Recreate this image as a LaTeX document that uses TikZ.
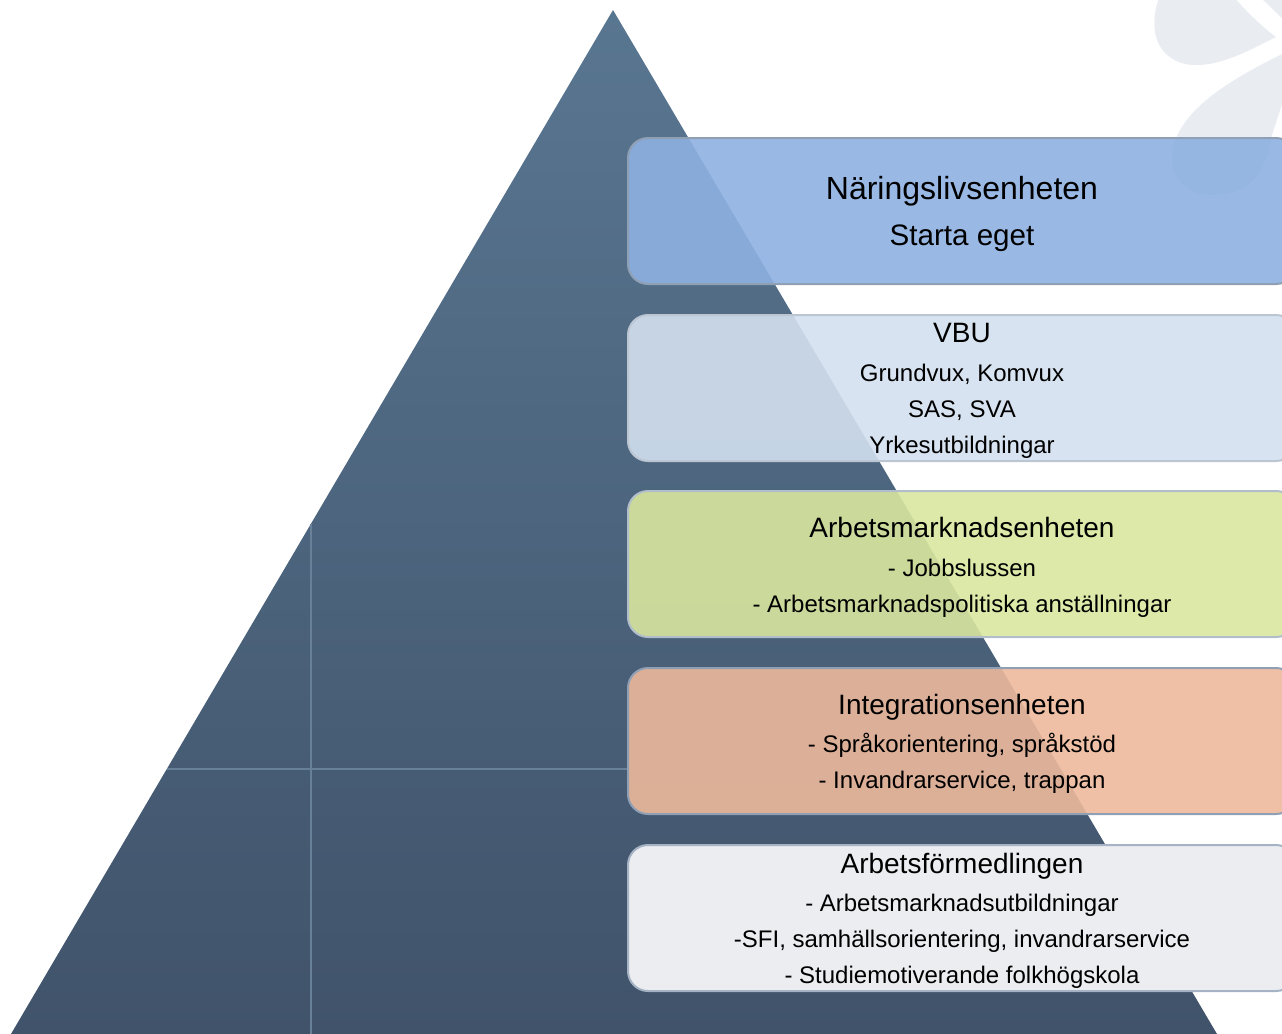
\documentclass[tikz,border=0pt]{standalone}
\usepackage{fontspec}
\setmainfont{Liberation Sans}
\definecolor{pyrtop}{RGB}{89,118,145}
\definecolor{pyrbot}{RGB}{64,83,106}
\definecolor{gridln}{RGB}{104,128,152}
\definecolor{logo}{RGB}{233,237,242}
\definecolor{bord}{RGB}{143,160,181}
\definecolor{cA}{RGB}{142,177,225}
\definecolor{cB}{RGB}{211,224,239}
\definecolor{cC}{RGB}{217,231,159}
\definecolor{cD}{RGB}{237,185,156}
\definecolor{cE}{RGB}{235,237,240}
\begin{document}
\begin{tikzpicture}[x=0.5pt,y=-0.5pt,
  box/.style={draw=bord, line width=1pt, rounded corners=10pt, fill opacity=0.9,
    minimum width=334pt, minimum height=73pt, inner sep=0pt},
  bigtxt/.style={anchor=base, font=\fontsize{16pt}{19pt}\selectfont},
  bigtxtb/.style={anchor=base, font=\fontsize{14.8pt}{18pt}\selectfont},
  ttl/.style={anchor=base, font=\fontsize{14pt}{17pt}\selectfont},
  itm/.style={anchor=base, font=\fontsize{12pt}{14pt}\selectfont}]
\useasboundingbox (0,0) rectangle (1282,1034);
\clip (0,0) rectangle (1282,1034);
% decorative logo
\fill[logo] (1160,-5) .. controls (1150,20) and (1150,55) .. (1185,64)
  .. controls (1215,70) and (1250,50) .. (1276,37)
  .. controls (1260,25) and (1245,10) .. (1232,-5) -- cycle;
\fill[logo] (1258,-5) -- (1290,-5) -- (1290,26) -- cycle;
\fill[logo] (1290,50) .. controls (1250,70) and (1200,95) .. (1180,130)
  .. controls (1160,165) and (1180,195) .. (1210,195)
  .. controls (1250,195) and (1265,175) .. (1272,135)
  -- (1290,80) -- cycle;
% pyramid
\shade[top color=pyrtop, bottom color=pyrbot] (613,10) coordinate (apex) -- (1217,1034) coordinate (br) -- (11,1034) coordinate (bl) -- cycle;
\coordinate (v1) at (311,524);
\coordinate (v2) at (311,1034);
\coordinate (h1) at (167,769);
\coordinate (h2) at (628,769);
\draw[gridln, line width=0.6pt] (v1) -- (v2);
\draw[gridln, line width=0.6pt] (h1) -- (h2);
% boxes
\node[box, fill=cA] (b1) at (962,211) {};
\node[box, fill=cB, draw=bord!60] (b2) at (962,388) {};
\node[box, fill=cC, draw=bord!70] (b3) at (962,564) {};
\node[box, fill=cD] (b4) at (962,741) {};
\node[box, fill=cE, fill opacity=1, draw=bord!80] (b5) at (962,918) {};
% texts
\node[bigtxt] (t11) at (962,199) {Näringslivsenheten};
\node[bigtxtb] (t12) at (962,245) {Starta eget};
\node[ttl] (t21) at (962,342) {VBU};
\node[itm] (t22) at (962,381) {Grundvux, Komvux};
\node[itm] (t23) at (962,417) {SAS, SVA};
\node[itm] (t24) at (962,453) {Yrkesutbildningar};
\node[ttl] (t31) at (962,537) {Arbetsmarknadsenheten};
\node[itm] (t32) at (962,576) {- Jobbslussen};
\node[itm] (t33) at (962,612) {- Arbetsmarknadspolitiska anställningar};
\node[ttl] (t41) at (962,714) {Integrationsenheten};
\node[itm] (t42) at (962,752) {- Språkorientering, språkstöd};
\node[itm] (t43) at (962,788) {- Invandrarservice, trappan};
\node[ttl] (t51) at (962,873) {Arbetsförmedlingen};
\node[itm] (t52) at (962,911) {- Arbetsmarknadsutbildningar};
\node[itm] (t53) at (962,947) {-SFI, samhällsorientering, invandrarservice};
\node[itm] (t54) at (962,983) {- Studiemotiverande folkhögskola};
\end{tikzpicture}
\end{document}
